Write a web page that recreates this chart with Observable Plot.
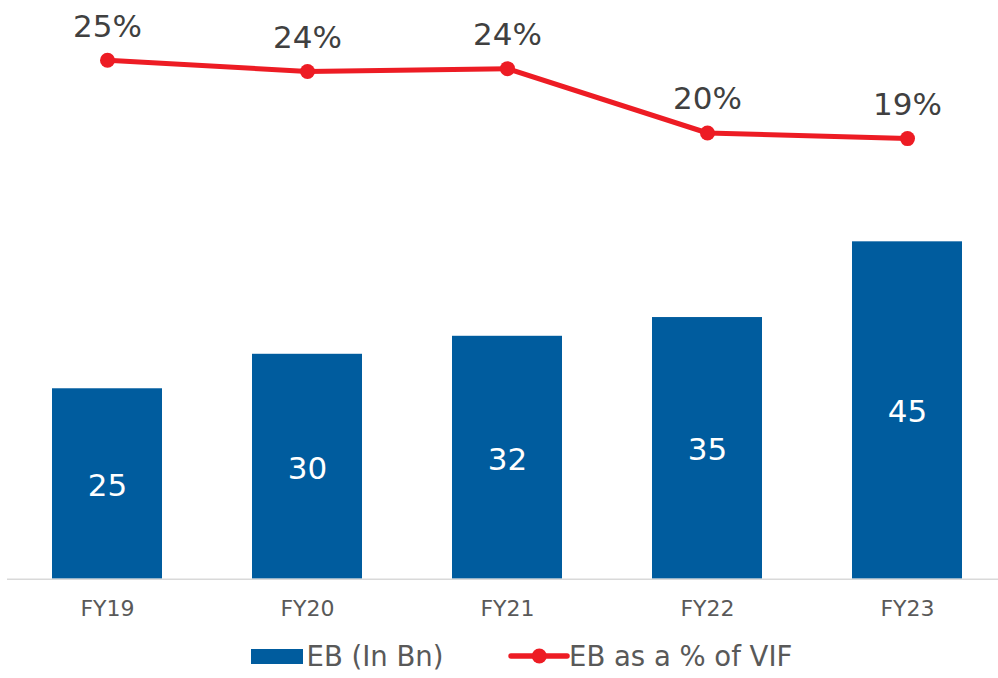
<!DOCTYPE html>
<html>
<head>
<meta charset="utf-8">
<script src="https://cdn.jsdelivr.net/npm/d3@7"></script>
<script src="https://cdn.jsdelivr.net/npm/@observablehq/plot@0.6"></script>
<style>
  html, body { margin: 0; padding: 0; background: #fff; }
  #chart { width: 998px; height: 630px; }
  #legend { position: relative; width: 998px; height: 48px; font-family: "DejaVu Sans", Verdana, sans-serif; font-size: 27.5px; color: #595959; }
  #legend .sw { position: absolute; }
  #legend .lbl { position: absolute; line-height: 27.5px; white-space: nowrap; }
</style>
</head>
<body>
<div id="chart"></div>
<div id="legend"></div>
<script>
// ---- data ----
const years = ["FY19", "FY20", "FY21", "FY22", "FY23"];
const ebValues = [25.4, 30.0, 32.4, 34.9, 45.0];
const ebLabels = ["25", "30", "32", "35", "45"];
const pctValues = [25.0, 24.2, 24.4, 19.8, 19.4];
const pctLabels = ["25%", "24%", "24%", "20%", "19%"];
const seriesNames = ["EB (In Bn)", "EB as a % of VIF"];

// primary axis (EB) and secondary axis (%) extents
const yMax = 75;
const pctMin = -12.1, pctMax = 28.1;
const pctToY = d3.scaleLinear().domain([pctMin, pctMax]).range([0, yMax]);

const data = years.map((year, i) => ({
  year,
  eb: ebValues[i],
  ebLabel: ebLabels[i],
  pct: pctValues[i],
  pctLabel: pctLabels[i]
}));

const blue = "#005c9e";
const red = "#ed1c24";

const chart = Plot.plot({
  width: 998,
  height: 630,
  marginLeft: 7,
  marginRight: 0,
  marginTop: 16.4,
  marginBottom: 51.3,
  style: { fontFamily: "DejaVu Sans, Verdana, sans-serif", background: "transparent" },
  x: { domain: years, range: [7, 1007], paddingInner: 0.45, paddingOuter: 0.225, align: 0.5, axis: null },
  y: { domain: [0, yMax], axis: null },
  marks: [
    Plot.barY(data, { x: "year", y: "eb", fill: blue }),
    Plot.ruleY([0], { stroke: "#d9d9d9", strokeWidth: 1.5 }),
    Plot.text(data, { x: "year", y: d => d.eb / 2, text: "ebLabel", fill: "white", fontSize: 31, dy: 2 }),
    Plot.line(data, { x: "year", y: d => pctToY(d.pct), stroke: red, strokeWidth: 5 }),
    Plot.dot(data, { x: "year", y: d => pctToY(d.pct), r: 7.5, fill: red, stroke: "none" }),
    Plot.text(data, { x: "year", y: d => pctToY(d.pct), text: "pctLabel", lineAnchor: "bottom", dy: -23.5, fontSize: 31, fill: "#404040" }),
    Plot.axisX({ tickSize: 0, tickPadding: 20.7, fontSize: 22, fill: "#595959", label: null })
  ]
});
document.getElementById("chart").appendChild(chart);

// ---- legend ----
const legend = document.getElementById("legend");
legend.innerHTML = `
  <div class="sw" style="left:251px; top:19.3px; width:52px; height:14.4px; background:${blue};"></div>
  <div class="lbl" style="left:306.5px; top:13.4px;">${seriesNames[0]}</div>
  <svg class="sw" style="left:506px; top:14px;" width="66" height="24">
    <line x1="5" y1="12" x2="61" y2="12" stroke="${red}" stroke-width="5.5" stroke-linecap="round"></line>
    <circle cx="33.3" cy="12" r="7.5" fill="${red}"></circle>
  </svg>
  <div class="lbl" style="left:569px; top:13.4px;">${seriesNames[1]}</div>
`;
</script>
</body>
</html>
